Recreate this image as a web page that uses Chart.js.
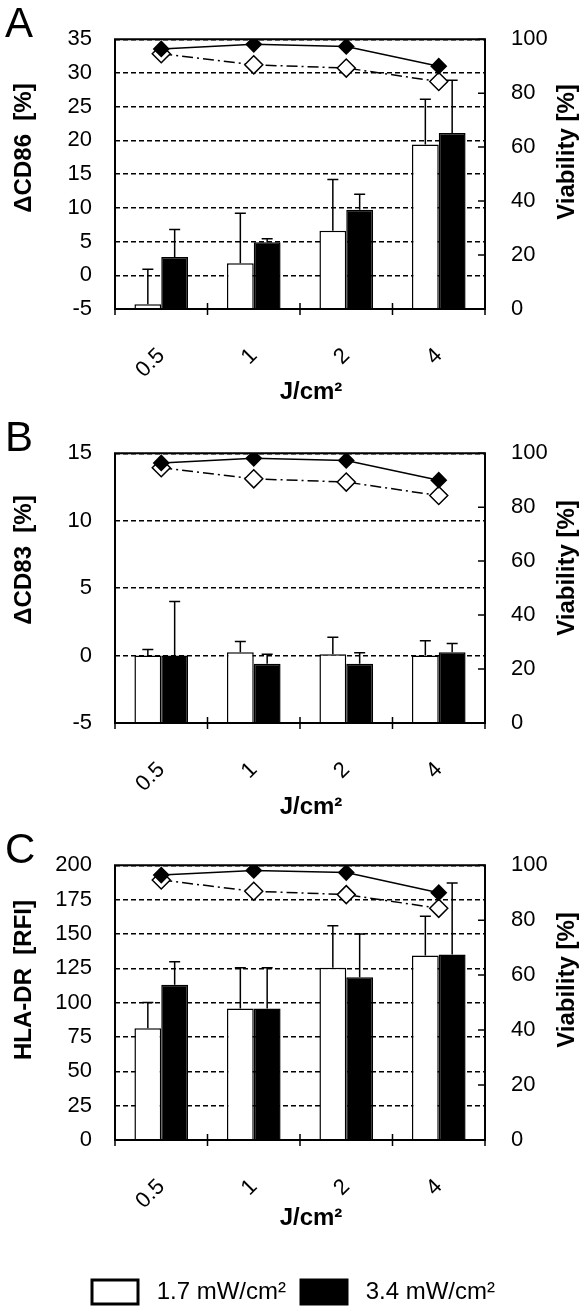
<!DOCTYPE html>
<html>
<head>
<meta charset="utf-8">
<script src="https://cdn.jsdelivr.net/npm/chart.js@4.4.1/dist/chart.umd.min.js"></script>
<style>
    html, body { margin: 0; padding: 0; background: #fff; overflow: hidden; }
    canvas { position: absolute; left: 0; }
</style>
</head>
<body>
<canvas id="chart-a" width="587" height="414" style="top:0"></canvas>
<canvas id="chart-b" width="587" height="412" style="top:414px"></canvas>
<canvas id="chart-c" width="587" height="488" style="top:826px"></canvas>
<script>
// fluence categories (J/cm2)
const doses = ['0.5', '1', '2', '4'];

// viability [%], same cells in all three panels
const viabLow = [94.6, 90.5, 89.3, 84.3];   // 1.7 mW/cm2, open diamonds
const viabHigh = [96.4, 98.1, 97.3, 90.0];  // 3.4 mW/cm2, filled diamonds

// panel A - delta CD86 [%]
const cd86Low = [-4.3, 1.8, 6.6, 19.4];
const cd86LowErr = [5.2, 7.4, 7.6, 6.7];
const cd86High = [2.7, 4.9, 9.7, 21.1];
const cd86HighErr = [4.1, 0.5, 2.3, 7.8];

// panel B - delta CD83 [%]
const cd83Low = [0, 0.25, 0.1, 0];
const cd83LowErr = [0.45, 0.8, 1.25, 1.1];
const cd83High = [0, -0.6, -0.6, 0.25];
const cd83HighErr = [4.0, 0.7, 0.8, 0.65];

// panel C - HLA-DR [RFI]
const hlaLow = [81.4, 95.7, 125.3, 134.2];
const hlaLowErr = [18.6, 29.6, 30.7, 28.6];
const hlaHigh = [113, 95.7, 118.4, 135];
const hlaHighErr = [16.7, 29.6, 31.6, 52];

const fontFamily = "'Liberation Sans', Arial, sans-serif";
const ink = '#000';

// upper whiskers, drawn right after their bar dataset
const errorBars = {
    id: 'errorBars',
    afterDatasetDraw(chart, args) {
        const ds = chart.data.datasets[args.index];
        if (!ds.errors) return;
        const yScale = chart.scales[args.meta.yAxisID];
        const ctx = chart.ctx;
        ctx.save();
        ctx.setLineDash([]);
        ctx.strokeStyle = ink;
        ctx.lineWidth = 1.5;
        args.meta.data.forEach((bar, i) => {
            const top = yScale.getPixelForValue(ds.data[i] + ds.errors[i]);
            ctx.beginPath();
            ctx.moveTo(bar.x, bar.y);
            ctx.lineTo(bar.x, top);
            ctx.moveTo(bar.x - 5.5, top);
            ctx.lineTo(bar.x + 5.5, top);
            ctx.stroke();
        });
        ctx.restore();
    }
};

// plot box, tick marks, axis titles and panel letter
const frame = {
    id: 'frame',
    afterDraw(chart, args, opts) {
        const { ctx, chartArea: a } = chart;
        const x = chart.scales.x;
        const y1 = chart.scales.y1;
        ctx.save();
        ctx.setLineDash([]);
        ctx.strokeStyle = ink;
        ctx.lineWidth = 2;
        ctx.beginPath();
        ctx.moveTo(a.left, a.top);
        ctx.lineTo(a.right, a.top);
        ctx.lineTo(a.right, a.bottom);
        ctx.lineTo(a.left, a.bottom);
        ctx.closePath();
        ctx.stroke();

        ctx.lineWidth = 1.5;
        ctx.beginPath();
        y1.ticks.forEach(t => {
            const p = y1.getPixelForValue(t.value);
            ctx.moveTo(a.right - 7, p);
            ctx.lineTo(a.right, p);
        });
        // category boundaries cross the axis line
        for (let i = 0; i <= doses.length; i++) {
            const p = x.getPixelForValue(i - 0.5);
            ctx.moveTo(p, a.bottom - 6);
            ctx.lineTo(p, a.bottom + 6);
        }
        ctx.stroke();

        ctx.fillStyle = ink;
        ctx.font = '42px ' + fontFamily;
        ctx.textAlign = 'left';
        ctx.textBaseline = 'alphabetic';
        ctx.fillText(opts.letter, 5, 37);

        ctx.font = 'bold 24px ' + fontFamily;
        ctx.textAlign = 'center';
        ctx.textBaseline = 'middle';
        ctx.fillText('J/cm²', 311, opts.xTitleY);
        [[opts.yTitle, 24, opts.yTitleY], ['Viability [%]', 567, opts.vTitleY]].forEach(([text, tx, ty]) => {
            ctx.save();
            ctx.translate(tx, ty);
            ctx.rotate(-Math.PI / 2);
            ctx.fillText(text, 0, 0);
            ctx.restore();
        });
        ctx.restore();
    }
};

function buildPanel(canvasId, p) {
    const tickFont = { family: fontFamily, size: 22 };
    return new Chart(document.getElementById(canvasId), {
        type: 'bar',
        data: {
            labels: doses,
            datasets: [
                {
                    type: 'line', label: 'Viability 3.4', data: viabHigh, yAxisID: 'y1',
                    borderColor: ink, borderWidth: 1.5, tension: 0,
                    pointStyle: 'rectRot', pointRadius: 7.5,
                    pointBackgroundColor: ink, pointBorderColor: ink, order: 0
                },
                {
                    type: 'line', label: 'Viability 1.7', data: viabLow, yAxisID: 'y1',
                    borderColor: ink, borderWidth: 1.5, borderDash: [11, 4, 2, 4], tension: 0,
                    pointStyle: 'rectRot', pointRadius: 9, pointBorderWidth: 1.5,
                    pointBackgroundColor: '#fff', pointBorderColor: ink, order: 1
                },
                {
                    label: '1.7 mW/cm²', data: p.low, errors: p.lowErr, base: p.min, yAxisID: 'y',
                    backgroundColor: '#fff', borderColor: ink, borderWidth: 1.5, order: 2
                },
                {
                    label: '3.4 mW/cm²', data: p.high, errors: p.highErr, base: p.min, yAxisID: 'y',
                    backgroundColor: ink, borderColor: ink, borderWidth: 1.5, order: 3
                }
            ]
        },
        options: {
            responsive: false,
            animation: false,
            devicePixelRatio: 1,
            layout: { padding: { top: 39, left: 0, right: 0, bottom: 0 } },
            datasets: { bar: { categoryPercentage: 0.58, barPercentage: 1.0 } },
            plugins: {
                tooltip: { enabled: false },
                frame: { letter: p.letter, yTitle: p.yTitle, yTitleY: p.yTitleY, vTitleY: p.vTitleY, xTitleY: p.xTitleY },
                legend: {
                    display: !!p.legend,
                    position: 'bottom',
                    labels: {
                        boxWidth: 46, boxHeight: 24, padding: 15, color: ink,
                        font: { family: fontFamily, size: 24 },
                        sort: (a, b) => a.datasetIndex - b.datasetIndex,
                        filter: item => item.datasetIndex >= 2,
                        generateLabels: chart => Chart.defaults.plugins.legend.labels
                            .generateLabels(chart)
                            .map(item => ({ ...item, text: ' ' + item.text, lineWidth: 3 }))
                    }
                }
            },
            scales: {
                x: {
                    offset: true,
                    grid: { display: false, drawTicks: false },
                    border: { display: false },
                    ticks: { minRotation: 45, maxRotation: 45, padding: 34, color: ink, font: tickFont },
                    afterFit: s => { s.height = p.xHeight; }
                },
                y: {
                    position: 'left', min: p.min, max: p.max,
                    ticks: { stepSize: p.step, padding: 23, color: ink, font: tickFont },
                    grid: { color: ink, lineWidth: 1.4, drawTicks: false },
                    border: { display: false, dash: [5, 3] },
                    afterFit: s => { s.width = 115; }
                },
                y1: {
                    position: 'right', min: 0, max: 100,
                    ticks: { stepSize: 20, padding: 26, color: ink, font: tickFont },
                    grid: { display: false, drawTicks: false },
                    border: { display: false },
                    afterFit: s => { s.width = 102; }
                }
            }
        },
        plugins: [errorBars, frame]
    });
}

buildPanel('chart-a', {
    letter: 'A', yTitle: 'ΔCD86  [%]', min: -5, max: 35, step: 5,
    low: cd86Low, lowErr: cd86LowErr, high: cd86High, highErr: cd86HighErr,
    xHeight: 105, xTitleY: 392, yTitleY: 148, vTitleY: 152
});

buildPanel('chart-b', {
    letter: 'B', yTitle: 'ΔCD83  [%]', min: -5, max: 15, step: 5,
    low: cd83Low, lowErr: cd83LowErr, high: cd83High, highErr: cd83HighErr,
    xHeight: 103, xTitleY: 393, yTitleY: 146, vTitleY: 154
});

buildPanel('chart-c', {
    letter: 'C', yTitle: 'HLA-DR  [RFI]', min: 0, max: 200, step: 25,
    low: hlaLow, lowErr: hlaLowErr, high: hlaHigh, highErr: hlaHighErr,
    xHeight: 125, xTitleY: 392, yTitleY: 154, vTitleY: 154, legend: true
});
</script>
</body>
</html>
